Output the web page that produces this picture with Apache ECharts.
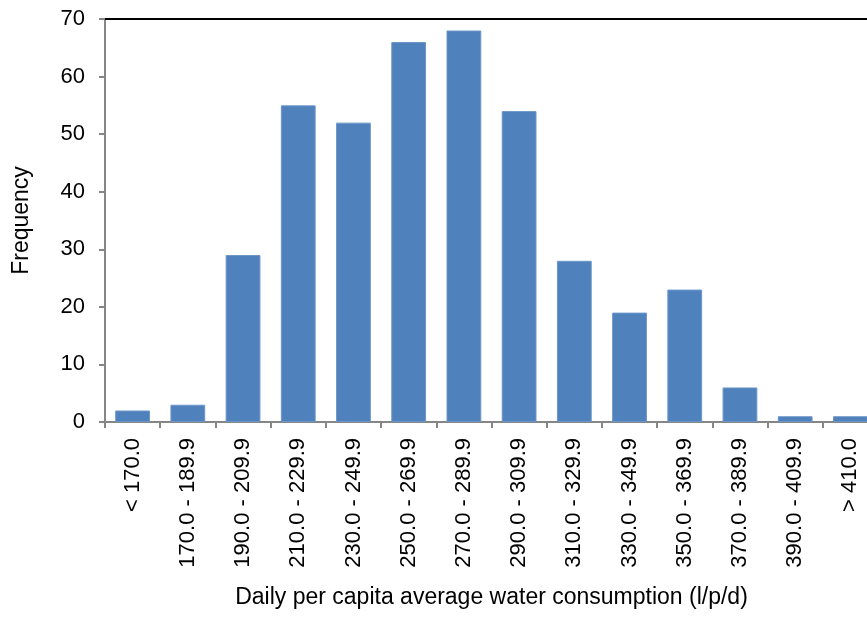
<!DOCTYPE html>
<html>
<head>
<meta charset="utf-8">
<script src="https://cdn.jsdelivr.net/npm/echarts@6/dist/echarts.min.js"></script>
<style>
  html, body { margin: 0; padding: 0; background: #fff; overflow: hidden; }
  #main { width: 880px; height: 619px; }
</style>
</head>
<body>
<div id="main"></div>
<script>
// 频数分布数据
const categories = ['< 170.0', '170.0 - 189.9', '190.0 - 209.9', '210.0 - 229.9', '230.0 - 249.9',
  '250.0 - 269.9', '270.0 - 289.9', '290.0 - 309.9', '310.0 - 329.9', '330.0 - 349.9',
  '350.0 - 369.9', '370.0 - 389.9', '390.0 - 409.9', '> 410.0'];
const frequency = [2, 3, 29, 55, 52, 66, 68, 54, 28, 19, 23, 6, 1, 1];
const yTicks = [0, 10, 20, 30, 40, 50, 60, 70];

const font = 'Liberation Sans, Arial, sans-serif';
const chart = echarts.init(document.getElementById('main'));

const option = {
  animation: false,
  grid: { left: 105, right: 2, top: 19, bottom: 197 },
  xAxis: [
    {
      type: 'category',
      data: categories,
      name: 'Daily per capita average water consumption (l/p/d)',
      nameLocation: 'middle',
      nameGap: 164,
      nameTextStyle: { color: '#000', fontSize: 23, fontFamily: font },
      axisLine: { lineStyle: { color: '#868686', width: 2 } },
      axisTick: { show: true, alignWithLabel: false, length: 6, lineStyle: { color: '#868686', width: 2 } },
      axisLabel: { rotate: 90, margin: 16, color: '#000', fontSize: 22, fontFamily: font, interval: 0 },
      splitLine: { show: false }
    },
    {
      type: 'category',
      position: 'top',
      data: categories,
      axisLine: { lineStyle: { color: '#000', width: 2 } },
      axisTick: { show: false },
      axisLabel: { show: false }
    }
  ],
  yAxis: {
    type: 'value',
    min: yTicks[0],
    max: yTicks[yTicks.length - 1],
    interval: 10,
    name: 'Frequency',
    nameLocation: 'middle',
    nameGap: 72,
    nameTextStyle: { color: '#000', fontSize: 23, fontFamily: font },
    axisLine: { show: true, lineStyle: { color: '#868686', width: 2 } },
    axisTick: { show: true, length: 6, lineStyle: { color: '#868686', width: 2 } },
    axisLabel: { margin: 20, color: '#000', fontSize: 22, fontFamily: font },
    splitLine: { show: false }
  },
  series: [
    {
      name: 'Frequency',
      type: 'bar',
      data: frequency,
      barCategoryGap: '37%',
      itemStyle: { color: '#4f81bd', borderColor: '#6d96c8', borderWidth: 1 }
    }
  ]
};

chart.setOption(option);
</script>
</body>
</html>
